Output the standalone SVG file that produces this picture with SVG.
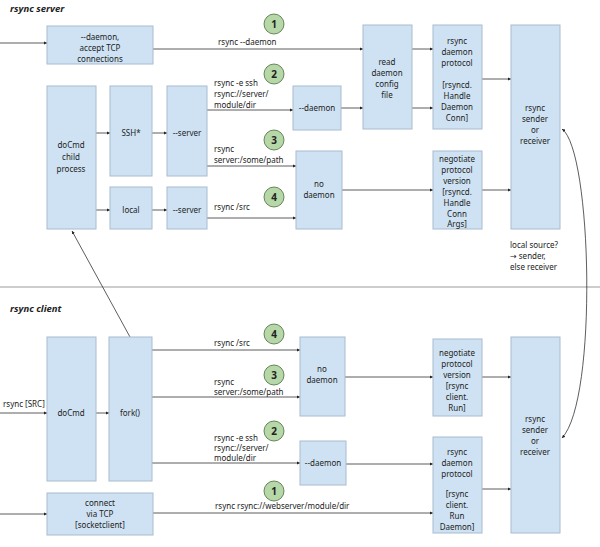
<svg xmlns="http://www.w3.org/2000/svg" width="600" height="547" viewBox="0 0 600 547">
<defs>
<marker id="a" viewBox="0 0 6 6" refX="6" refY="3" markerWidth="4" markerHeight="4" orient="auto-start-reverse"><path d="M0,0L6,3L0,6z" fill="#222"/></marker>
<style>
.b{fill:#cfe2f3;stroke:#a9bccf;stroke-width:1}
text{font-family:"Noto Sans","DejaVu Sans",sans-serif;font-size:8px;fill:#222}
.c text,.n text{text-anchor:middle}
.l{stroke:#333;stroke-width:0.8;fill:none;marker-end:url(#a)}
.cir{fill:#b6d7a8;stroke:#4a6b3a;stroke-width:0.8}
.cn{font-weight:bold;font-size:10px;text-anchor:middle}
.h{font-weight:bold;font-style:italic;font-size:9.5px}
</style>
</defs>
<rect width="600" height="547" fill="#fff"/>
<text class="h" x="10" y="12">rsync server</text>
<text class="h" x="10" y="312">rsync client</text>
<line x1="0" y1="287" x2="600" y2="287" stroke="#999" stroke-width="1"/>

<g id="connectors">
<path class="l" d="M0,43H47"/>
<path class="l" d="M153,49H363"/>
<path class="l" d="M96,133H110"/><path class="l" d="M152,133H167"/>
<path class="l" d="M96,210H110"/><path class="l" d="M152,210H167"/>
<path class="l" d="M207,110H293"/>
<path class="l" d="M207,166H296"/>
<path class="l" d="M207,218H296"/>
<path class="l" d="M341,108H363"/>
<path class="l" d="M412,49H433"/><path class="l" d="M412,108H433"/>
<path class="l" d="M482,79H511"/><path class="l" d="M482,190H511"/>
<path class="l" d="M342,190H433"/>
<path class="l" d="M0,413H47"/><path class="l" d="M96,413H109"/>
<path class="l" d="M152,350H300"/>
<path class="l" d="M152,397H300"/>
<path class="l" d="M152,463H300"/>
<path class="l" d="M0,514H47"/>
<path class="l" d="M153,513H433"/>
<path class="l" d="M345,377H433"/>
<path class="l" d="M346,464H433"/>
<path class="l" d="M482,377H511"/><path class="l" d="M482,489H511"/>
<path class="l" d="M130,337L72,231"/>
<path class="l" d="M562,129C592,150 598,400 562,438" marker-start="url(#a)"/>
<text x="218" y="45">rsync --daemon</text>
<text x="214" y="86">rsync -e ssh</text>
<text x="214" y="97">rsync://server/</text>
<text x="214" y="108">module/dir</text>
<text x="214" y="152">rsync</text>
<text x="214" y="163">server:/some/path</text>
<text x="214" y="210">rsync  /src</text>
<text x="3" y="407">rsync [SRC]</text>
<text x="214" y="346">rsync  /src</text>
<text x="214" y="385">rsync</text>
<text x="214" y="395">server:/some/path</text>
<text x="214" y="441">rsync -e ssh</text>
<text x="214" y="451">rsync://server/</text>
<text x="214" y="461">module/dir</text>
<text x="215" y="509">rsync rsync://webserver/module/dir</text>
<text x="510" y="248">local source?</text>
<text x="510" y="259">→ sender,</text>
<text x="510" y="270">else receiver</text>
</g>

<g class="n">
<circle class="cir" cx="274" cy="24" r="10"/><text class="cn" x="274" y="28">1</text>
<circle class="cir" cx="274" cy="74" r="10"/><text class="cn" x="274" y="78">2</text>
<circle class="cir" cx="274" cy="140" r="10"/><text class="cn" x="274" y="144">3</text>
<circle class="cir" cx="274" cy="197" r="10"/><text class="cn" x="274" y="201">4</text>
<circle class="cir" cx="274" cy="334" r="10"/><text class="cn" x="274" y="338">4</text>
<circle class="cir" cx="274" cy="375" r="10"/><text class="cn" x="274" y="379">3</text>
<circle class="cir" cx="274" cy="431" r="10"/><text class="cn" x="274" y="435">2</text>
<circle class="cir" cx="274" cy="491" r="10"/><text class="cn" x="274" y="495">1</text>
</g>

<g id="s-daemon" class="c"><rect class="b" x="47" y="26" width="106" height="38"/><text x="100" y="40">--daemon,</text><text x="100" y="51">accept TCP</text><text x="100" y="62">connections</text></g>
<g id="s-child" class="c"><rect class="b" x="47" y="86" width="49" height="143"/><text x="71" y="148">doCmd</text><text x="71" y="160">child</text><text x="71" y="172">process</text></g>
<g id="s-ssh" class="c"><rect class="b" x="110" y="86" width="42" height="90"/><text x="131" y="136">SSH*</text></g>
<g id="s-server1" class="c"><rect class="b" x="167" y="86" width="40" height="90"/><text x="187" y="136">--server</text></g>
<g id="s-local" class="c"><rect class="b" x="110" y="187" width="42" height="42"/><text x="131" y="213">local</text></g>
<g id="s-server2" class="c"><rect class="b" x="167" y="187" width="40" height="42"/><text x="187" y="213">--server</text></g>
<g id="s-ddaemon" class="c"><rect class="b" x="293" y="86" width="48" height="44"/><text x="317" y="111">--daemon</text></g>
<g id="s-nodaemon" class="c"><rect class="b" x="296" y="151" width="46" height="78"/><text x="319" y="187">no</text><text x="319" y="198">daemon</text></g>
<g id="s-config" class="c"><rect class="b" x="363" y="25" width="49" height="104"/><text x="387" y="65">read</text><text x="387" y="76">daemon</text><text x="387" y="87">config</text><text x="387" y="98">file</text></g>
<g id="s-proto" class="c"><rect class="b" x="433" y="25" width="49" height="104"/><text x="457" y="44">rsync</text><text x="457" y="55">daemon</text><text x="457" y="66">protocol</text><text x="457" y="88">[rsyncd.</text><text x="457" y="99">Handle</text><text x="457" y="110">Daemon</text><text x="457" y="121">Conn]</text></g>
<g id="s-neg" class="c"><rect class="b" x="433" y="151" width="49" height="78"/><text x="457" y="162">negotiate</text><text x="457" y="173">protocol</text><text x="457" y="184">version</text><text x="457" y="195">[rsyncd.</text><text x="457" y="206">Handle</text><text x="457" y="217">Conn</text><text x="457" y="227">Args]</text></g>
<g id="s-sender" class="c"><rect class="b" x="511" y="25" width="49" height="204"/><text x="535" y="111">rsync</text><text x="535" y="122">sender</text><text x="535" y="133">or</text><text x="535" y="144">receiver</text></g>

<g id="c-docmd" class="c"><rect class="b" x="47" y="337" width="49" height="144"/><text x="71" y="416">doCmd</text></g>
<g id="c-fork" class="c"><rect class="b" x="109" y="337" width="43" height="144"/><text x="130" y="416">fork()</text></g>
<g id="c-connect" class="c"><rect class="b" x="47" y="493" width="106" height="42"/><text x="100" y="506">connect</text><text x="100" y="517">via TCP</text><text x="100" y="528">[socketclient]</text></g>
<g id="c-nodaemon" class="c"><rect class="b" x="300" y="337" width="45" height="79"/><text x="322" y="372">no</text><text x="322" y="383">daemon</text></g>
<g id="c-ddaemon" class="c"><rect class="b" x="300" y="441" width="46" height="44"/><text x="323" y="466">--daemon</text></g>
<g id="c-neg" class="c"><rect class="b" x="433" y="339" width="49" height="77"/><text x="457" y="356">negotiate</text><text x="457" y="367">protocol</text><text x="457" y="378">version</text><text x="457" y="389">[rsync</text><text x="457" y="400">client.</text><text x="457" y="411">Run]</text></g>
<g id="c-proto" class="c"><rect class="b" x="433" y="437" width="49" height="96"/><text x="457" y="455">rsync</text><text x="457" y="466">daemon</text><text x="457" y="477">protocol</text><text x="457" y="497">[rsync</text><text x="457" y="508">client.</text><text x="457" y="519">Run</text><text x="457" y="530">Daemon]</text></g>
<g id="c-sender" class="c"><rect class="b" x="511" y="337" width="49" height="196"/><text x="535" y="422">rsync</text><text x="535" y="433">sender</text><text x="535" y="444">or</text><text x="535" y="455">receiver</text></g>
</svg>
